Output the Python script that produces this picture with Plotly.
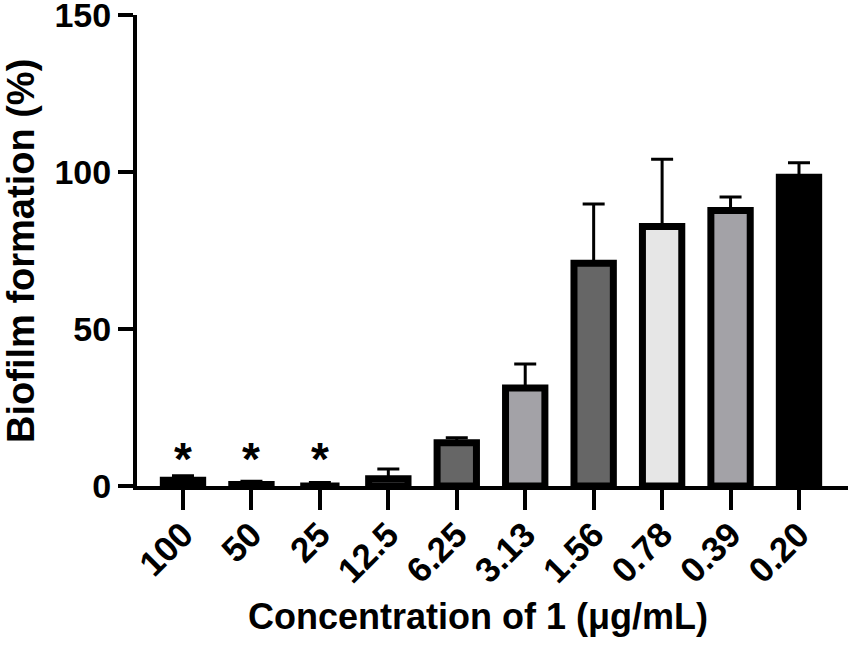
import plotly.graph_objects as go

# Biofilm formation vs concentration of compound 1
concentrations = ["100", "50", "25", "12.5", "6.25", "3.13", "1.56", "0.78", "0.39", "0.20"]
biofilm_mean = [1.8, 0.5, 0.0, 2.3, 13.8, 31.2, 71.0, 82.7, 87.8, 98.4]
biofilm_err = [1.5, 1.0, 1.1, 3.1, 1.6, 7.7, 18.8, 21.4, 4.3, 4.6]
bar_colors = ["#000000", "#000000", "#000000", "#A3A2A7", "#666666",
              "#A3A2A7", "#666666", "#E6E6E6", "#A3A2A7", "#000000"]
significant = ["100", "50", "25"]  # marked with *

y_ticks = [0, 50, 100, 150]

FONT = "Liberation Sans, Arial, sans-serif"

fig = go.Figure()
fig.add_trace(go.Bar(
    x=concentrations,
    y=biofilm_mean,
    width=0.575,
    marker=dict(color=bar_colors, line=dict(color="black", width=7)),
    error_y=dict(type="data", symmetric=False, array=biofilm_err,
                 arrayminus=[0] * len(biofilm_err),
                 color="black", thickness=3, width=11),
    showlegend=False,
))

# significance stars (x given as category index)
for c in significant:
    fig.add_annotation(x=concentrations.index(c), y=8.5, text="*", showarrow=False,
                       xref="x", yref="y", yanchor="middle",
                       font=dict(family=FONT, size=46, color="black", weight="bold"))

# axis titles as annotations
fig.add_annotation(text="Concentration of 1 (μg/mL)", x=0.479, y=-0.277,
                   xref="paper", yref="paper", xanchor="center", yanchor="middle",
                   showarrow=False,
                   font=dict(family=FONT, size=36, color="black", weight="bold"))
fig.add_annotation(text="Biofilm formation (%)", x=-0.164, y=0.5, textangle=-90,
                   xref="paper", yref="paper", xanchor="center", yanchor="middle",
                   showarrow=False,
                   font=dict(family=FONT, size=38, color="black", weight="bold"))

fig.update_layout(
    width=850, height=654,
    margin=dict(l=137, r=2, t=15, b=168),
    plot_bgcolor="white", paper_bgcolor="white",
    font=dict(family=FONT, color="black"),
)
fig.update_xaxes(
    type="category", range=[-0.672, 9.716], automargin=False,
    showline=True, linewidth=4, linecolor="black",
    ticks="outside", ticklen=20, tickwidth=4, tickcolor="black",
    tickangle=-45, tickfont=dict(family=FONT, size=35, weight="bold"),
    ticklabelstandoff=-10,
    showgrid=False, zeroline=False,
)
fig.update_yaxes(
    range=[0, 150.05], tickvals=y_ticks, ticklabeloverflow="allow", automargin=False,
    showline=True, linewidth=4, linecolor="black",
    ticks="outside", ticklen=15, tickwidth=4, tickcolor="black",
    tickfont=dict(family=FONT, size=34, weight="bold"),
    showgrid=False, zeroline=False,
)

# drop the default 8px page margin so the figure fills the window
fig.write_html("out.html", config={"displayModeBar": False},
               post_script="document.body.style.margin='0';")
